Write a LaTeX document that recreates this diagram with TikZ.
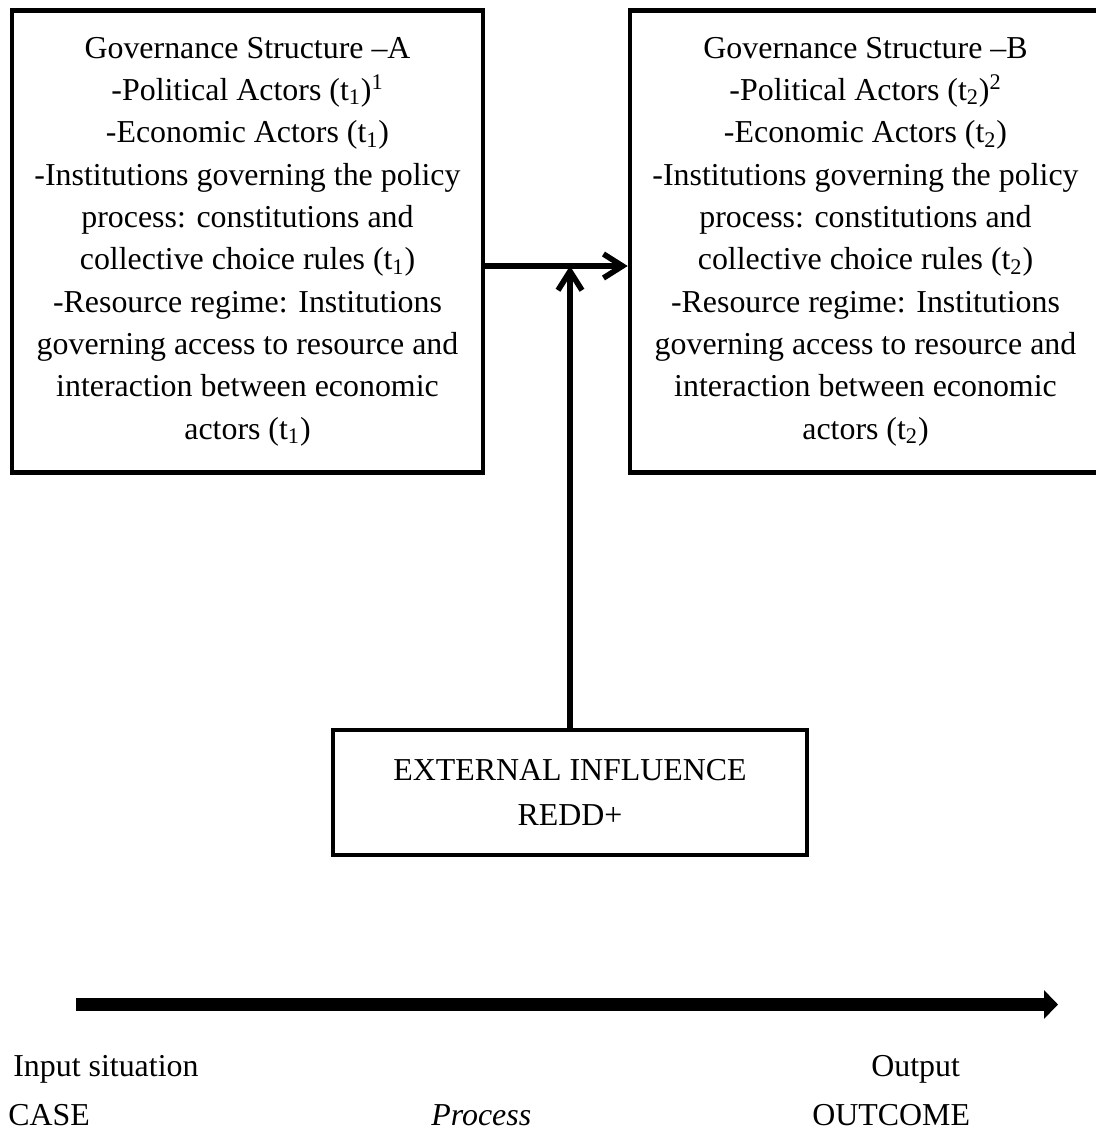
\documentclass[tikz,border=0pt]{standalone}
\usepackage{fontspec}
\setmainfont{Liberation Serif}
\usetikzlibrary{arrows.meta}

\begin{document}
\begin{tikzpicture}[
    gbox/.style={draw, line width=2.6pt, align=center, inner sep=0pt,
                 font=\fontsize{18.15pt}{24.1pt}\selectfont},
    lbl/.style={anchor=base west, inner sep=0pt,
                font=\fontsize{18.15pt}{24.1pt}\selectfont},
    barb/.style={line width=3.2pt, -{Straight Barb[length=3.8mm,width=4.8mm]}}
]
    \path[use as bounding box] (0,0) rectangle (21.92,-22.64);
    \clip (0,0) rectangle (21.92,-22.64);

    \node[gbox, minimum width=9.42cm, minimum height=9.24cm]
         (gsa) at (4.95,-4.83) {Governance Structure --A\\
         -Political Actors (t\textsubscript{1})\textsuperscript{1}\\
         -Economic Actors (t\textsubscript{1})\\
         -Institutions governing the policy\\
         process: constitutions and\\
         collective choice rules (t\textsubscript{1})\\
         -Resource regime: Institutions\\
         governing access to resource and\\
         interaction between economic\\
         actors (t\textsubscript{1})};
    \node[gbox, minimum width=9.42cm, minimum height=9.24cm]
         (gsb) at (17.31,-4.83) {Governance Structure --B\\
         -Political Actors (t\textsubscript{2})\textsuperscript{2}\\
         -Economic Actors (t\textsubscript{2})\\
         -Institutions governing the policy\\
         process: constitutions and\\
         collective choice rules (t\textsubscript{2})\\
         -Resource regime: Institutions\\
         governing access to resource and\\
         interaction between economic\\
         actors (t\textsubscript{2})};
    \node[gbox, minimum width=9.48cm, minimum height=2.5cm,
          font=\fontsize{18.15pt}{25.6pt}\selectfont]
         (redd) at (11.4,-15.85) {EXTERNAL INFLUENCE\\REDD+};

    \node[lbl] (inp)  at (0.26,-21.52)  {Input situation};
    \node[lbl] (outp) at (17.42,-21.52) {Output};
    \node[lbl] (case) at (0.16,-22.5)   {CASE};
    \node[lbl] (proc) at (8.62,-22.5)   {\itshape Process};
    \node[lbl] (outc) at (16.24,-22.5)  {OUTCOME};

    \coordinate (mid) at (11.36,-5.32);
    \coordinate (tl)  at (1.52,-20.09);
    \coordinate (tr)  at (21.16,-20.09);

    %edges
    \draw[barb] (gsa.east |- mid) -- (gsb.west |- mid);
    \draw[barb] (redd.north) -- (redd.north |- mid);
    \draw[line width=7.4pt, -{Triangle[length=2.8mm,width=5.6mm]}] (tl) -- (tr);
\end{tikzpicture}
\end{document}
